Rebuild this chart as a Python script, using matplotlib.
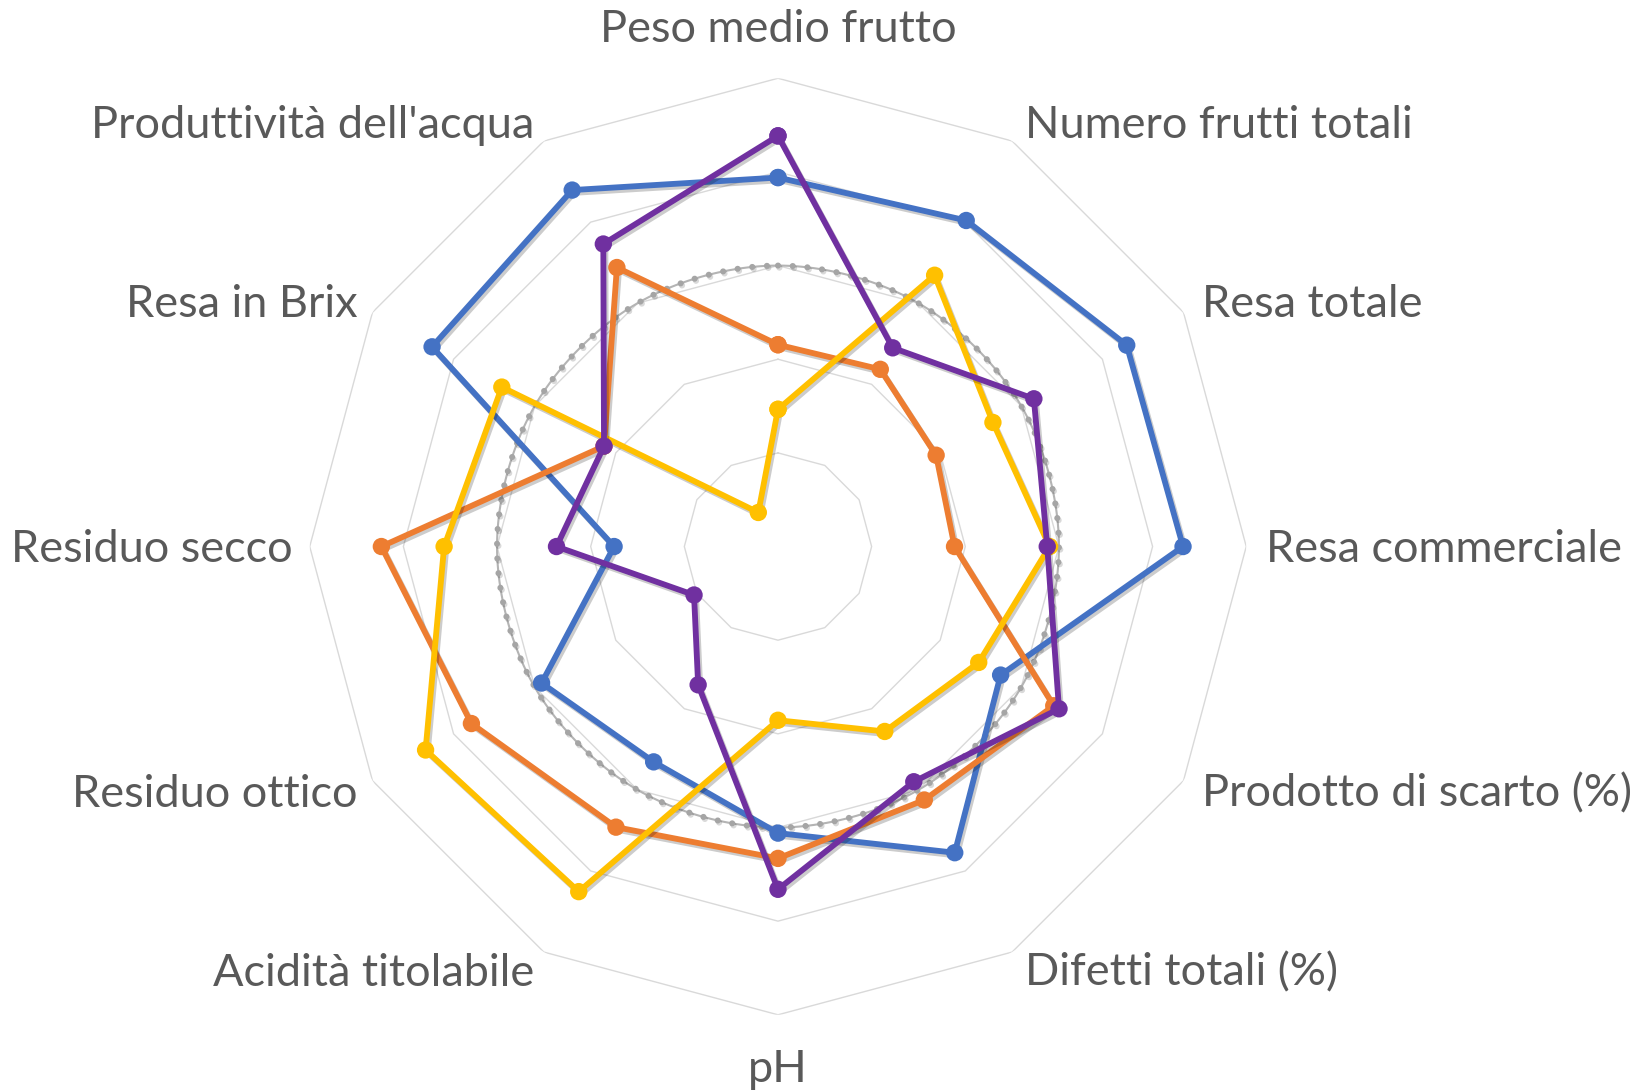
import numpy as np
import matplotlib
matplotlib.use("Agg")
import matplotlib.pyplot as plt
import matplotlib.patheffects as pe

# assi del radar, in senso orario partendo dall'alto
categorie = ["Peso medio frutto", "Numero frutti totali", "Resa totale",
             "Resa commerciale", "Prodotto di scarto (%)", "Difetti totali (%)",
             "pH", "Acidità titolabile", "Residuo ottico", "Residuo secco",
             "Resa in Brix", "Produttività dell'acqua"]

# valori normalizzati (0-100)
blu = [78.8, 80.4, 86.0, 86.5, 54.9, 75.5, 61.2, 53.1, 58.3, 35.0, 85.3, 87.9]
arancio = [43.1, 43.7, 39.0, 37.7, 68.0, 62.5, 66.6, 69.2, 75.6, 84.7, 42.9, 68.8]
giallo = [29.3, 66.9, 53.0, 58.0, 49.5, 45.6, 37.1, 85.1, 86.9, 71.3, 68.1, 8.4]
viola = [87.7, 49.0, 63.1, 57.5, 69.3, 58.0, 73.2, 34.1, 20.7, 47.3, 42.9, 74.6]
controllo = [60, 60, 60, 60, 60, 60, 60, 60, 60, 60, 60, 60]

griglia = [20, 40, 60, 80, 100]

n = len(categorie)
theta = np.arange(n) * 2 * np.pi / n


def chiudi(v):
    return np.append(theta, theta[0]), np.append(v, v[0])


def smussa(v, passi=24):
    # spline catmull-rom chiusa nel piano cartesiano, come la linea smussata di Excel
    v = np.asarray(v, dtype=float)
    x = v * np.cos(theta)
    y = v * np.sin(theta)
    p = np.column_stack([x, y])
    out = []
    t = np.linspace(0, 1, passi, endpoint=False)[:, None]
    for i in range(n):
        p0, p1, p2, p3 = p[i - 1], p[i], p[(i + 1) % n], p[(i + 2) % n]
        seg = 0.5 * ((2 * p1) + (-p0 + p2) * t
                     + (2 * p0 - 5 * p1 + 4 * p2 - p3) * t ** 2
                     + (-p0 + 3 * p1 - 3 * p2 + p3) * t ** 3)
        out.append(seg)
    out.append(p[:1])
    out = np.vstack(out)
    return np.arctan2(out[:, 1], out[:, 0]), np.hypot(out[:, 0], out[:, 1])


fig = plt.figure(figsize=(16.37, 10.91), dpi=100)
ax = fig.add_axes([0.1892, 0.0698, 0.5721, 0.8585], projection="polar")
ax.set_theta_offset(np.pi / 2)
ax.set_theta_direction(-1)
ax.set_ylim(0, 100)
ax.grid(False)
ax.spines["polar"].set_visible(False)
ax.set_xticks([])
ax.set_yticks([])
ax.patch.set_alpha(0)

# anelli poligonali
for g in griglia:
    tt, rr = chiudi(np.full(n, g))
    ax.plot(tt, rr, color="#D9D9D9", lw=1.0, zorder=1)

ombra = [pe.SimpleLineShadow(offset=(1.5, -2), shadow_color="#000000", alpha=0.2),
         pe.Normal()]

# serie di controllo: linea smussata a puntini
ts, rs = smussa(controllo)
ax.plot(ts, rs, color="#B4B4B4", lw=1.5, zorder=2)
ax.plot(ts, rs, color="#A5A5A5", lw=4.4, linestyle=(0, (0.01, 2.4)),
        dash_capstyle="round", zorder=2,
        path_effects=[pe.SimpleLineShadow(offset=(1, -1.5), alpha=0.15), pe.Normal()])

serie = [(blu, "#4472C4"), (arancio, "#ED7D31"), (giallo, "#FFC000"), (viola, "#7030A0")]
for k, (val, col) in enumerate(serie):
    tt, rr = chiudi(val)
    ax.plot(tt, rr, color=col, lw=4.2, marker="o", markersize=12.5,
            markeredgewidth=0, solid_joinstyle="round", zorder=3 + k,
            path_effects=ombra)

# etichette degli assi
for i, nome in enumerate(categorie):
    ang = np.pi / 2 - theta[i]
    c, s = np.cos(ang), np.sin(ang)
    if abs(c) < 1e-6:
        ha = "center"
        dx, dy = 0, 52 * np.sign(s)
    elif c > 0:
        ha = "left"
        dx, dy = 6 + 14 * c, 21 * s
    else:
        ha = "right"
        dx, dy = -(3 + 14 * abs(c)), 21 * s
    ax.annotate(nome, xy=(theta[i], 100), xytext=(dx, dy - 3),
                textcoords="offset pixels", ha=ha, va="center",
                fontsize=32.5, family=["Lato", "DejaVu Sans"], color="#595959",
                annotation_clip=False)

fig.savefig("out.png", dpi=100, facecolor="white")
